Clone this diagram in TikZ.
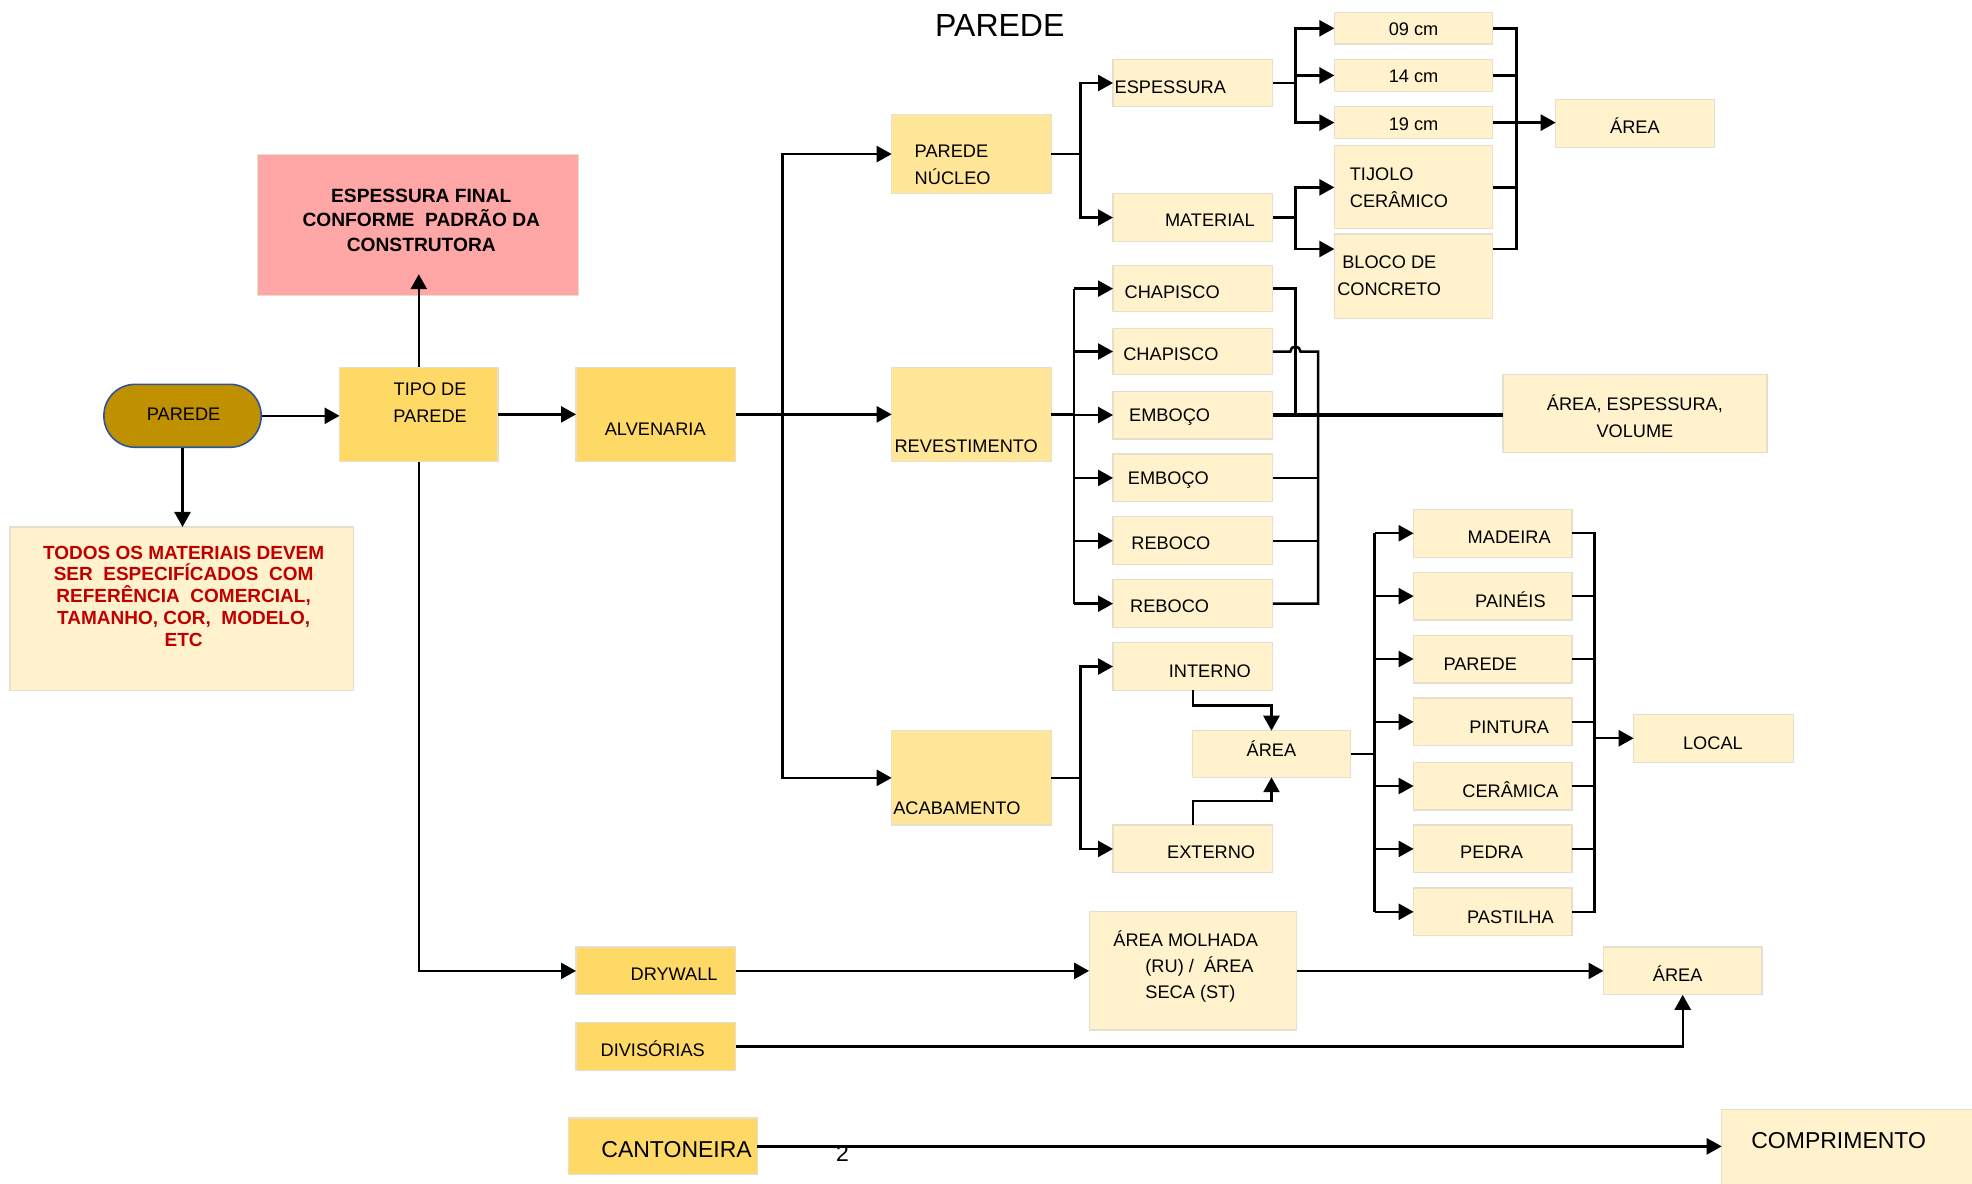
\documentclass[tikz,border=0pt]{standalone}
\usepackage{fontspec}
\setmainfont{Liberation Sans}
\usetikzlibrary{arrows.meta,calc}

\definecolor{lightbox}{HTML}{FFF2CC}
\definecolor{midbox}{HTML}{FFE699}
\definecolor{goldbox}{HTML}{FFD966}
\definecolor{pinkbox}{HTML}{FFA6A6}
\definecolor{pillfill}{HTML}{BF9000}
\definecolor{pillline}{HTML}{2F5597}
\definecolor{redtext}{HTML}{C00000}
\definecolor{cellline}{HTML}{E6DFCB}

\newdimen\cellunit
\cellunit=0.62885pt

% \cell[fill]{name}{x1}{y1}{x2}{y2}: a plain box given by its top-left and bottom-right corners
\newcommand\cell[6][lightbox]{%
  \node[cellbox, fill=#1, anchor=north west,
        minimum width={(#5-#3)*\cellunit}, minimum height={(#6-#4)*\cellunit}]
        (#2) at (#3,#4) {};}

\tikzset{
  cellbox/.style={draw=cellline, line width=0.6pt, inner sep=0pt, outer sep=0pt},
  txt/.style={inner sep=0pt, font=\fontsize{9.1}{13.5}\selectfont},
  conn/.style={draw=black, line width=1.25pt},
  thickconn/.style={draw=black, line width=2pt},
  arr/.style={conn, -{Triangle[length=7.5pt,width=8pt]}},
}

\begin{document}
\begin{tikzpicture}[x=0.62885pt, y=-0.62885pt]
\useasboundingbox (0,0) rectangle (1568,941);
\fill[white] (0,0) rectangle (1568,941);

% title
\node[inner sep=0pt, font=\fontsize{16}{19}\selectfont] (title) at (795,20) {PAREDE};

% start terminal
\node[draw=pillline, fill=pillfill, line width=0.8pt, rounded corners=15.5pt,
      minimum width={125*\cellunit}, minimum height={50*\cellunit},
      inner sep=0pt, anchor=north west] (pill) at (82,305) {};
\node[txt] (pill-t) at (146,329) {PAREDE};

% notes
\cell[pinkbox]{espf}{205}{123}{460}{235}
\node[txt, font=\fontsize{9.6}{12.3}\selectfont\bfseries, align=center] (espf-t) at (335,175)
  {ESPESSURA FINAL\\CONFORME\ \ PADRÃO DA\\CONSTRUTORA};
\cell{todos}{8}{419}{281}{549}
\node[txt, text=redtext, font=\fontsize{9.5}{10.9}\selectfont\bfseries, align=center] (todos-t) at (146,474)
  {TODOS OS MATERIAIS DEVEM\\SER\ \ ESPECIFÍCADOS\ \ COM\\REFERÊNCIA\ \ COMERCIAL,\\TAMANHO, COR,\ \ MODELO,\\ETC};

% main chain
\cell[goldbox]{tipo}{270}{292}{396}{367}
\node[txt, align=center] (tipo-t) at (342,320) {TIPO DE\\PAREDE};
\cell[goldbox]{alv}{458}{292}{585}{367}
\node[txt] (alv-t) at (521,341) {ALVENARIA};

\cell[midbox]{nuc}{709}{91}{836}{154}
\node[txt, align=left, anchor=west] (nuc-t) at (727,131) {PAREDE\\NÚCLEO};
\cell[midbox]{rev}{709}{292}{836}{367}
\node[txt, anchor=west] (rev-t) at (711,355) {REVESTIMENTO};
\cell[midbox]{acab}{709}{581}{836}{656}
\node[txt, anchor=west] (acab-t) at (710,643) {ACABAMENTO};

% wall core
\cell{esp}{885}{47}{1012}{85}
\node[txt, anchor=west] (esp-t) at (886,69) {ESPESSURA};
\cell{mat}{885}{154}{1012}{192}
\node[txt] (mat-t) at (962,175) {MATERIAL};
\cell{c09}{1061}{10}{1187}{35}
\node[txt] (c09-t) at (1124,23) {09 cm};
\cell{c14}{1061}{47}{1187}{73}
\node[txt] (c14-t) at (1124,61) {14 cm};
\cell{c19}{1061}{85}{1187}{110}
\node[txt] (c19-t) at (1124,99) {19 cm};
\cell{tij}{1061}{116}{1187}{182}
\node[txt, align=left, anchor=west] (tij-t) at (1073,149) {TIJOLO\\CERÂMICO};
\cell{blo}{1061}{186}{1187}{253}
\node[txt, align=left, anchor=west] (blo-t) at (1063,219) {\hspace*{2.5pt}BLOCO DE\\CONCRETO};
\cell{area1}{1237}{79}{1363}{117}
\node[txt] (area1-t) at (1300,100) {ÁREA};

% coatings
\cell{ch1}{885}{211}{1012}{248}
\node[txt] (ch1-t) at (932,232) {CHAPISCO};
\cell{ch2}{885}{261}{1012}{298}
\node[txt] (ch2-t) at (931,282) {CHAPISCO};
\cell{em1}{885}{311}{1012}{349}
\node[txt] (em1-t) at (930,332) {EMBOÇO};
\cell{em2}{885}{361}{1012}{399}
\node[txt] (em2-t) at (929,382) {EMBOÇO};
\cell{rb1}{885}{411}{1012}{449}
\node[txt] (rb1-t) at (931,432) {REBOCO};
\cell{rb2}{885}{461}{1012}{499}
\node[txt] (rb2-t) at (930,482) {REBOCO};
\cell{aev}{1195}{298}{1405}{360}
\node[txt, align=center] (aev-t) at (1300,331) {ÁREA, ESPESSURA,\\VOLUME};

% finishes
\cell{int}{885}{511}{1012}{549}
\node[txt] (int-t) at (962,534) {INTERNO};
\cell{ext}{885}{656}{1012}{694}
\node[txt] (ext-t) at (963,678) {EXTERNO};
\cell{am}{948}{581}{1074}{618}
\node[txt] (am-t) at (1011,595) {ÁREA};
\cell{mad}{1124}{405}{1250}{443}
\node[txt] (mad-t) at (1200,427) {MADEIRA};
\cell{pai}{1124}{455}{1250}{493}
\node[txt] (pai-t) at (1201,477) {PAINÉIS};
\cell{par}{1124}{505}{1250}{543}
\node[txt] (par-t) at (1177,528) {PAREDE};
\cell{pin}{1124}{555}{1250}{593}
\node[txt] (pin-t) at (1200,578) {PINTURA};
\cell{cer}{1124}{606}{1250}{644}
\node[txt] (cer-t) at (1201,628) {CERÂMICA};
\cell{ped}{1124}{656}{1250}{694}
\node[txt] (ped-t) at (1186,678) {PEDRA};
\cell{pas}{1124}{706}{1250}{744}
\node[txt] (pas-t) at (1201,729) {PASTILHA};
\cell{loc}{1299}{568}{1426}{606}
\node[txt] (loc-t) at (1362,591) {LOCAL};

% drywall, partitions, corner pieces
\cell[goldbox]{dry}{458}{753}{585}{791}
\node[txt] (dry-t) at (536,775) {DRYWALL};
\cell[goldbox]{div}{458}{813}{585}{851}
\node[txt] (div-t) at (519,834) {DIVISÓRIAS};
\cell{molh}{866}{725}{1031}{819}
\node[txt, align=left, anchor=west, font=\fontsize{9.1}{12.9}\selectfont] (molh-t) at (885,768.5)
  {ÁREA MOLHADA\\\hspace*{16pt}(RU) /\ \ ÁREA\\\hspace*{16pt}SECA (ST)};
\cell{areab}{1275}{753}{1401}{791}
\node[txt] (areab-t) at (1334,774) {ÁREA};
\cell[goldbox]{cant}{452}{889}{602}{934}
\node[txt, font=\fontsize{11.5}{14}\selectfont] (cant-t) at (538,914) {CANTONEIRA};
\node[txt, font=\fontsize{11.5}{14}\selectfont] (two) at (670,917) {2};
\cell{comp}{1369}{882}{1580}{950}
\node[txt, font=\fontsize{11.5}{14}\selectfont] (comp-t) at (1462,907) {COMPRIMENTO};

% trunk positions
\coordinate (kA) at (622,0);
\coordinate (kB) at (859,0);
\coordinate (kC) at (1030,0);
\coordinate (kD) at (1206,0);
\coordinate (kE) at (854,0);
\coordinate (kF) at (1030,0);
\coordinate (kG) at (1048,0);
\coordinate (kH) at (859,0);
\coordinate (kI) at (1093,0);
\coordinate (kJ) at (1268,0);
\coordinate (bloL) at ($(blo.north west)+(0,12)$);
\coordinate (bloR) at ($(blo.north east)+(0,12)$);
\coordinate (espfTip) at ($(espf.south)+(0,-17)$);

% main chain connectors
\draw[arr] (pill.east) -- (pill.east -| tipo.west);
\draw[arr] (pill.south) -- (pill.south |- todos.north);
\draw[arr] (tipo.north) -- (tipo.north |- espfTip);
\draw[arr] (tipo.south) |- (dry.west);
\draw[arr] (tipo.east) -- (alv.west);
\draw[conn] (alv.east) -- (alv.east -| kA);
\draw[arr] (alv.east -| kA) |- (nuc.west);
\draw[arr] (alv.east) -- (rev.west);
\draw[arr] (alv.east -| kA) |- (acab.west);

% wall core connectors
\draw[conn] (nuc.east) -- (nuc.east -| kB);
\draw[arr] (nuc.east -| kB) |- (esp.west);
\draw[arr] (nuc.east -| kB) |- (mat.west);
\draw[conn] (esp.east) -- (esp.east -| kC);
\draw[arr] (esp.east -| kC) |- (c09.west);
\draw[arr] (esp.east -| kC) |- (c14.west);
\draw[arr] (esp.east -| kC) |- (c19.west);
\draw[conn] (mat.east) -- (mat.east -| kC);
\draw[arr] (mat.east -| kC) |- (tij.west);
\draw[arr] (mat.east -| kC) |- (bloL);
\draw[conn] (c09.east) -- (c09.east -| kD) -- (bloR -| kD) -- (bloR);
\draw[conn] (c14.east) -- (c14.east -| kD);
\draw[conn] (tij.east) -- (tij.east -| kD);
\draw[arr] (c19.east) -- (c19.east -| area1.west);

% coating connectors
\draw[conn] (rev.east) -- (rev.east -| kE);
\draw[conn] (ch1.west -| kE) -- (rb2.west -| kE);
\foreach \n in {ch1,ch2,em1,em2,rb1,rb2}
  \draw[arr] (\n.west -| kE) -- (\n.west);
\draw[conn] (ch1.east) -- (ch1.east -| kF) -- (em1.east -| kF);
\draw[conn] (ch2.east) -- ++(14,0) arc[start angle=180, end angle=360, radius=4]
  -- (ch2.east -| kG) -- (rb2.east -| kG) -- (rb2.east);
\draw[conn] (em2.east) -- (em2.east -| kG);
\draw[conn] (rb1.east) -- (rb1.east -| kG);
\draw[thickconn] (em1.east) -- (em1.east -| aev.west);

% finish connectors
\draw[conn] (acab.east) -- (acab.east -| kH);
\draw[arr] (acab.east -| kH) |- (int.west);
\draw[arr] (acab.east -| kH) |- (ext.west);
\draw[arr] (int.south) -- ++(0,12) -| (am.north);
\draw[arr] (ext.north) -- ++(0,-19) -| (am.south);
\draw[conn] (am.east) -- (am.east -| kI);
\draw[conn] (mad.west -| kI) -- (pas.west -| kI);
\foreach \n in {mad,pai,par,pin,cer,ped,pas}
  \draw[arr] (\n.west -| kI) -- (\n.west);
\draw[conn] (mad.east) -- (mad.east -| kJ) -- (pas.east -| kJ) -- (pas.east);
\foreach \n in {pai,par,pin,cer,ped}
  \draw[conn] (\n.east) -- (\n.east -| kJ);
\draw[arr] (loc.west -| kJ) -- (loc.west);

% drywall, partitions, corner pieces connectors
\draw[arr] (dry.east) -- (molh.west);
\draw[arr] (molh.east) -- (areab.west);
\draw[arr] (div.east) -| (areab.south);
\draw[arr] (cant.east) -- (cant.east -| comp.west);
\end{tikzpicture}
\end{document}
